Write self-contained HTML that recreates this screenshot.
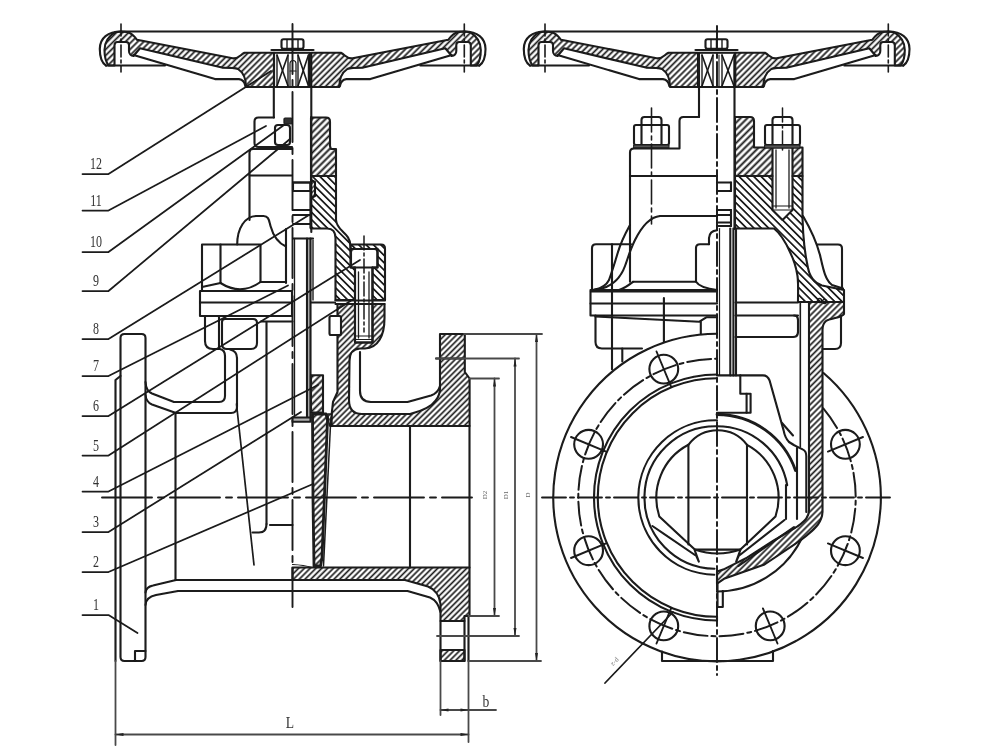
<!DOCTYPE html>
<html><head><meta charset="utf-8"><title>Gate valve drawing</title>
<style>
html,body{margin:0;padding:0;background:#fff;}
body{width:1000px;height:750px;overflow:hidden;font-family:"Liberation Sans",sans-serif;}
svg{display:block;}
</style></head><body>
<svg width="1000" height="750" viewBox="0 0 1000 750"
 font-family="Liberation Sans, sans-serif" stroke="#1a1a1a" stroke-linecap="round" stroke-linejoin="round" fill="none">
<defs>
<pattern id="hA" width="4.3" height="4.3" patternUnits="userSpaceOnUse" patternTransform="rotate(-45)"><line x1="-1" y1="2.15" x2="6.3" y2="2.15" stroke="#1a1a1a" stroke-width="1.65"/></pattern>
<pattern id="hB" width="4.3" height="4.3" patternUnits="userSpaceOnUse" patternTransform="rotate(45)"><line x1="-1" y1="2.15" x2="6.3" y2="2.15" stroke="#1a1a1a" stroke-width="1.65"/></pattern>
<pattern id="hG" width="4.8" height="4.8" patternUnits="userSpaceOnUse" patternTransform="rotate(-45)"><line x1="-1" y1="2.4" x2="6.8" y2="2.4" stroke="#1a1a1a" stroke-width="1.7"/></pattern>
<pattern id="hN" width="5.2" height="5.2" patternUnits="userSpaceOnUse" patternTransform="rotate(45)"><line x1="-1" y1="2.6" x2="7.2" y2="2.6" stroke="#1a1a1a" stroke-width="1.75"/></pattern>
<pattern id="hY" width="4.1" height="4.1" patternUnits="userSpaceOnUse" patternTransform="rotate(-45)"><line x1="-1" y1="2.05" x2="6.1" y2="2.05" stroke="#1a1a1a" stroke-width="1.6"/></pattern>
<pattern id="hW" width="4.2" height="4.2" patternUnits="userSpaceOnUse" patternTransform="rotate(-45)"><line x1="-1" y1="2.1" x2="6.2" y2="2.1" stroke="#1a1a1a" stroke-width="1.55"/></pattern>
<pattern id="hE" width="4.4" height="4.4" patternUnits="userSpaceOnUse" patternTransform="rotate(-45)"><line x1="-1" y1="2.2" x2="6.4" y2="2.2" stroke="#1a1a1a" stroke-width="1.6"/></pattern>
<pattern id="hC" width="3.2" height="3.2" patternUnits="userSpaceOnUse" patternTransform="rotate(-45)"><line x1="-1" y1="1.6" x2="5.2" y2="1.6" stroke="#1a1a1a" stroke-width="1.3"/></pattern>
<pattern id="hD" width="3.2" height="3.2" patternUnits="userSpaceOnUse" patternTransform="rotate(45)"><line x1="-1" y1="1.6" x2="5.2" y2="1.6" stroke="#1a1a1a" stroke-width="1.3"/></pattern>
<filter id="soft" x="0" y="0" width="1000" height="750" filterUnits="userSpaceOnUse"><feGaussianBlur stdDeviation="0.5"/></filter>
</defs>
<rect x="0" y="0" width="1000" height="750" fill="#fff" stroke="none"/>
<g filter="url(#soft)">
<g transform="translate(0 0)">
<g>
<path d="M108.5,65.5 C106,62 104.5,57 104.5,50 C104.5,43 107,37 115,32.3 L121,31.5 L127,32 C131,33 134,35.5 137,39.8 L232.6,58.3 C238,59.3 240,55 244.5,52.8 L274,52.8 L274,87 L246,87 C246,80 244,73 238,69 C235,67.6 230,67.6 222,67.6 L140,48.3 L133.5,56 C131,56 129,54 129,51 L129,45 C129,43 128,42 126,42 L117.5,42 C115.5,42 114.5,43 114.5,45.5 L114.5,65.5 Z" fill="url(#hA)" stroke-width="2.1" fill-rule="evenodd"/>
<path d="M121,31.5 C108,31.5 99.8,38 99.8,49 C99.8,58 102,63 106,65.6" fill="none" stroke-width="2.1" />
<line x1="106" y1="65.5" x2="165" y2="65.5" stroke-width="2.1" />
<path d="M133.5,55 L215,79.1 L239,79.1 C243,79.4 244.6,82 245.4,86" fill="none" stroke-width="2.1" />
<line x1="121" y1="24" x2="121" y2="72" stroke-width="1.6" stroke-dasharray="12 3 3 3"/>
</g>
<g transform="translate(585.3 0) scale(-1 1)">
<path d="M108.5,65.5 C106,62 104.5,57 104.5,50 C104.5,43 107,37 115,32.3 L121,31.5 L127,32 C131,33 134,35.5 137,39.8 L232.6,58.3 C238,59.3 240,55 244.5,52.8 L274,52.8 L274,87 L246,87 C246,80 244,73 238,69 C235,67.6 230,67.6 222,67.6 L140,48.3 L133.5,56 C131,56 129,54 129,51 L129,45 C129,43 128,42 126,42 L117.5,42 C115.5,42 114.5,43 114.5,45.5 L114.5,65.5 Z" fill="url(#hB)" stroke-width="2.1" fill-rule="evenodd"/>
<path d="M121,31.5 C108,31.5 99.8,38 99.8,49 C99.8,58 102,63 106,65.6" fill="none" stroke-width="2.1" />
<line x1="106" y1="65.5" x2="165" y2="65.5" stroke-width="2.1" />
<path d="M133.5,55 L215,79.1 L239,79.1 C243,79.4 244.6,82 245.4,86" fill="none" stroke-width="2.1" />
<line x1="121" y1="24" x2="121" y2="72" stroke-width="1.6" stroke-dasharray="12 3 3 3"/>
</g>
<line x1="121" y1="31.5" x2="464.3" y2="31.5" stroke-width="2.1" />
<rect x="274" y="52.8" width="36" height="34.2" rx="0" fill="none" stroke-width="2.1"/>
<line x1="277" y1="55" x2="288" y2="86" stroke-width="1.6" />
<line x1="288" y1="55" x2="277" y2="86" stroke-width="1.6" />
<line x1="277" y1="55" x2="277" y2="86" stroke-width="1.4" />
<line x1="288" y1="55" x2="288" y2="86" stroke-width="1.4" />
<line x1="298" y1="55" x2="308.5" y2="86" stroke-width="1.6" />
<line x1="308.5" y1="55" x2="298" y2="86" stroke-width="1.6" />
<line x1="298" y1="55" x2="298" y2="86" stroke-width="1.4" />
<line x1="308.5" y1="55" x2="308.5" y2="86" stroke-width="1.4" />
<path d="M290,86 L290,64 Q290,60.5 293,60.5 Q296,60.5 296,64 L296,86" fill="none" stroke-width="1.2" />
<line x1="290" y1="71" x2="296" y2="71" stroke-width="1.2" />
<line x1="273.8" y1="87" x2="273.8" y2="117.5" stroke-width="2.1" />
<line x1="311.3" y1="87" x2="311.3" y2="120" stroke-width="2.1" />
<line x1="271.5" y1="50" x2="313.5" y2="50" stroke-width="2.2" />
<line x1="273" y1="52.6" x2="312" y2="52.6" stroke-width="1.2" />
<rect x="281.5" y="39.3" width="22" height="9.5" rx="2" fill="none" stroke-width="2.1"/>
<line x1="287" y1="40" x2="287" y2="48.5" stroke-width="1.4" />
<line x1="292.5" y1="40" x2="292.5" y2="48.5" stroke-width="1.4" />
<line x1="298" y1="40" x2="298" y2="48.5" stroke-width="1.4" />
</g>
<g transform="translate(424 0)">
<g>
<path d="M108.5,65.5 C106,62 104.5,57 104.5,50 C104.5,43 107,37 115,32.3 L121,31.5 L127,32 C131,33 134,35.5 137,39.8 L232.6,58.3 C238,59.3 240,55 244.5,52.8 L274,52.8 L274,87 L246,87 C246,80 244,73 238,69 C235,67.6 230,67.6 222,67.6 L140,48.3 L133.5,56 C131,56 129,54 129,51 L129,45 C129,43 128,42 126,42 L117.5,42 C115.5,42 114.5,43 114.5,45.5 L114.5,65.5 Z" fill="url(#hA)" stroke-width="2.1" fill-rule="evenodd"/>
<path d="M121,31.5 C108,31.5 99.8,38 99.8,49 C99.8,58 102,63 106,65.6" fill="none" stroke-width="2.1" />
<line x1="106" y1="65.5" x2="165" y2="65.5" stroke-width="2.1" />
<path d="M133.5,55 L215,79.1 L239,79.1 C243,79.4 244.6,82 245.4,86" fill="none" stroke-width="2.1" />
<line x1="121" y1="24" x2="121" y2="72" stroke-width="1.6" stroke-dasharray="12 3 3 3"/>
</g>
<g transform="translate(585.3 0) scale(-1 1)">
<path d="M108.5,65.5 C106,62 104.5,57 104.5,50 C104.5,43 107,37 115,32.3 L121,31.5 L127,32 C131,33 134,35.5 137,39.8 L232.6,58.3 C238,59.3 240,55 244.5,52.8 L274,52.8 L274,87 L246,87 C246,80 244,73 238,69 C235,67.6 230,67.6 222,67.6 L140,48.3 L133.5,56 C131,56 129,54 129,51 L129,45 C129,43 128,42 126,42 L117.5,42 C115.5,42 114.5,43 114.5,45.5 L114.5,65.5 Z" fill="url(#hB)" stroke-width="2.1" fill-rule="evenodd"/>
<path d="M121,31.5 C108,31.5 99.8,38 99.8,49 C99.8,58 102,63 106,65.6" fill="none" stroke-width="2.1" />
<line x1="106" y1="65.5" x2="165" y2="65.5" stroke-width="2.1" />
<path d="M133.5,55 L215,79.1 L239,79.1 C243,79.4 244.6,82 245.4,86" fill="none" stroke-width="2.1" />
<line x1="121" y1="24" x2="121" y2="72" stroke-width="1.6" stroke-dasharray="12 3 3 3"/>
</g>
<line x1="121" y1="31.5" x2="464.3" y2="31.5" stroke-width="2.1" />
<rect x="275" y="52.8" width="36" height="34.2" rx="0" fill="none" stroke-width="2.1"/>
<line x1="278" y1="55" x2="289" y2="86" stroke-width="1.6" />
<line x1="289" y1="55" x2="278" y2="86" stroke-width="1.6" />
<line x1="278" y1="55" x2="278" y2="86" stroke-width="1.4" />
<line x1="289" y1="55" x2="289" y2="86" stroke-width="1.4" />
<line x1="298" y1="55" x2="310" y2="86" stroke-width="1.6" />
<line x1="310" y1="55" x2="298" y2="86" stroke-width="1.6" />
<line x1="298" y1="55" x2="298" y2="86" stroke-width="1.4" />
<line x1="310" y1="55" x2="310" y2="86" stroke-width="1.4" />
<line x1="295" y1="55" x2="295" y2="86" stroke-width="1.1" />
<line x1="271.5" y1="50" x2="313.5" y2="50" stroke-width="2.2" />
<line x1="273" y1="52.6" x2="312" y2="52.6" stroke-width="1.2" />
<rect x="281.5" y="39.3" width="22" height="9.5" rx="2" fill="none" stroke-width="2.1"/>
<line x1="287" y1="40" x2="287" y2="48.5" stroke-width="1.4" />
<line x1="292.5" y1="40" x2="292.5" y2="48.5" stroke-width="1.4" />
<line x1="298" y1="40" x2="298" y2="48.5" stroke-width="1.4" />
</g>
<line x1="292.5" y1="24" x2="292.5" y2="607" stroke-width="1.9" stroke-dasharray="50 6 6 6"/>
<line x1="102" y1="497.5" x2="472" y2="497.5" stroke-width="1.9" stroke-dasharray="50 6 6 6"/>
<line x1="311.3" y1="117" x2="311.3" y2="232" stroke-width="2.1" />
<path d="M274,117.5 L258.5,117.5 Q254.5,117.5 254.5,121.5 L254.5,143 Q254.5,147 258.5,147 L292,147" fill="none" stroke-width="2.1" />
<rect x="275" y="125" width="15" height="20" rx="3" fill="none" stroke-width="2.1"/>
<rect x="284" y="118" width="8" height="6" rx="1" fill="#333" stroke-width="1.2"/>
<path d="M311,117.5 L326,117.5 Q330,117.5 330,121.5 L330,146 L331,149 L336,149 L336,176 L311,176 Z" fill="url(#hG)" stroke-width="2.1" fill-rule="evenodd"/>
<path d="M292,149 L253,149 Q249.5,149 249.5,152.5 L249.5,220" fill="none" stroke-width="2.1" />
<line x1="249.5" y1="175.5" x2="292" y2="175.5" stroke-width="2.1" />
<path d="M311,176 L336,176 L336,220 C337,232 350,232 350.5,246 L350.5,267.5 L355,267.5 L355,300 L335.5,300 L335.5,238 Q335.5,228.5 327,228.5 L311,228.5 L311,198 L315,196 L315,182 L311,180 Z" fill="url(#hN)" stroke-width="2.1" fill-rule="evenodd"/>
<path d="M311,180 L315,182 L315,196 L311,198 Z" fill="url(#hC)" stroke-width="1.2" fill-rule="evenodd"/>
<line x1="293" y1="182.5" x2="310.5" y2="182.5" stroke-width="2.1" />
<line x1="293" y1="191" x2="310.5" y2="191" stroke-width="2.1" />
<line x1="293" y1="210" x2="310.5" y2="210" stroke-width="2.1" />
<line x1="293" y1="215" x2="310.5" y2="215" stroke-width="2.1" />
<line x1="293" y1="224" x2="310.5" y2="224" stroke-width="2.1" />
<line x1="310.5" y1="182.5" x2="310.5" y2="228" stroke-width="2.1" />
<rect x="293" y="182.5" width="17.5" height="8.5" rx="0" fill="none" stroke-width="2.1"/>
<path d="M350.5,244.5 L381,244.5 Q385,244.5 385,248.5 L385,300 L372.5,300 L372.5,267.5 L377.5,267.5 L377.5,249 L350.5,249 Z" fill="url(#hN)" stroke-width="2.1" fill-rule="evenodd"/>
<path d="M351,267.5 L351,252 Q351,249 354,249 L374.5,249 Q377.5,249 377.5,252 L377.5,267.5 Z" fill="none" stroke-width="2.1" />
<path d="M355,267.5 L355,342.5 L372.5,342.5 L372.5,267.5" fill="none" stroke-width="2.1" />
<line x1="358.5" y1="272" x2="358.5" y2="338" stroke-width="1.3" />
<line x1="369" y1="272" x2="369" y2="338" stroke-width="1.3" />
<line x1="355" y1="336" x2="372.5" y2="336" stroke-width="1.2" />
<line x1="355" y1="339.5" x2="372.5" y2="339.5" stroke-width="1.2" />
<line x1="364" y1="236" x2="364" y2="332" stroke-width="1.5" stroke-dasharray="14 3 3 3"/>
<line x1="335.5" y1="300.5" x2="385" y2="300.5" stroke-width="2.2" />
<line x1="335.5" y1="304" x2="384.5" y2="304" stroke-width="2.1" />
<path d="M337.5,304 L355,304 L355,342.5 L372.5,342.5 L372.5,304 L384.5,304 L384.5,318 C384.5,336 378,348 365,348.5 L360,348.5 Q349.5,349 349.5,361 L349,400 Q349,414 362,414 L410,414 Q430,409 436,400 Q440,395 440,388 L440,334 L464.8,334 L464.8,372 L469.6,378.5 L469.6,426 L331,426 L331,420 L333,402 L337.5,392 Z" fill="url(#hY)" stroke-width="2.1" fill-rule="evenodd"/>
<line x1="436" y1="358.5" x2="464.8" y2="358.5" stroke-width="2.1" />
<path d="M360,352 L360,391 Q360,402 371,402 L407.5,402 L431,395.5 Q438,393 440,386" fill="none" stroke-width="2.1" />
<rect x="329.5" y="316" width="11.5" height="19" rx="1.5" fill="#fff" stroke-width="2.1"/>
<rect x="307" y="238.5" width="3.5" height="179" fill="#b0b0b0" stroke="none"/>
<line x1="307" y1="238.5" x2="307" y2="417.5" stroke-width="2.1" />
<line x1="310.5" y1="238.5" x2="310.5" y2="417.5" stroke-width="2.1" />
<line x1="313" y1="240" x2="313" y2="300" stroke-width="1.4" />
<line x1="293" y1="238.5" x2="313" y2="238.5" stroke-width="2.1" />
<line x1="294.5" y1="238.5" x2="294.5" y2="417.5" stroke-width="1.3" />
<line x1="311" y1="302.5" x2="335" y2="302.5" stroke-width="2.1" />
<path d="M286,283 L286,229" fill="none" stroke-width="2.1" />
<path d="M311,375.2 L323,375.2 L323,412.5 L311,412.5 Z" fill="url(#hG)" stroke-width="2.1" fill-rule="evenodd"/>
<rect x="292.5" y="417.5" width="18" height="4.2" rx="0" fill="#b0b0b0" stroke-width="2.1"/>
<path d="M312.5,414 L326,414 L327.5,420 L322,558 L320.5,566 L314,566 L313,500 Z" fill="url(#hE)" stroke-width="2.8" fill-rule="evenodd"/>
<line x1="330.5" y1="425" x2="323.5" y2="566" stroke-width="1.5" />
<path d="M327.7,414 L332,414 L332,426 L329.5,426 Z" fill="url(#hC)" stroke-width="1.4" fill-rule="evenodd"/>
<path d="M292.5,564.5 Q304,565 312,567.5" fill="none" stroke-width="1.1" />
<line x1="410" y1="426" x2="410" y2="567.5" stroke-width="2.1" />
<line x1="469.5" y1="426" x2="469.5" y2="567.5" stroke-width="2.1" />
<path d="M292.5,567.5 L469.5,567.5 L469.5,616 L464.5,616 L464.5,621 L440.5,621 L440.5,604 Q439,591 428,586.5 L405,580 L292.5,580 Z" fill="url(#hY)" stroke-width="2.1" fill-rule="evenodd"/>
<line x1="440.5" y1="621" x2="440.5" y2="661" stroke-width="2.1" />
<line x1="464.5" y1="621" x2="464.5" y2="661" stroke-width="2.1" />
<path d="M440.5,650 L464.5,650 L464.5,661 L440.5,661 Z" fill="url(#hY)" stroke-width="2.1" fill-rule="evenodd"/>
<line x1="468.5" y1="616" x2="468.5" y2="661" stroke-width="2.1" />
<path d="M145.5,605 Q146,597 156,595 L178,591 L407.5,591 L430,597.5 Q438,601 440.5,612" fill="none" stroke-width="2.1" />
<path d="M145.5,592.5 Q146,587 153,585.5 L176,580 L292.5,580" fill="none" stroke-width="2.1" />
<line x1="175.5" y1="413" x2="175.5" y2="580" stroke-width="2.1" />
<path d="M124.5,334 L141.5,334 Q145.5,334 145.5,338 L145.5,657 Q145.5,661 141.5,661 L124.5,661 Q120.5,661 120.5,657 L120.5,338 Q120.5,334 124.5,334 Z" fill="none" stroke-width="2.1" />
<path d="M120.5,376 L115.5,380 L115.5,661" fill="none" stroke-width="2.1" />
<path d="M135,661 L135,651 L145.5,651" fill="none" stroke-width="2.1" />
<path d="M145.5,382 Q146,391 152,393.5 L174,402 L219,402 Q225,402 225,396 L225,356 Q225,350 220,349" fill="none" stroke-width="2.1" />
<path d="M145.5,395 Q146,402 152,404.5 L176,413 L231,413 Q237,413 237,407 L237,358 Q237,351 230,349.5" fill="none" stroke-width="2.1" />
<line x1="236.5" y1="404" x2="254" y2="565" stroke-width="1.7" />
<line x1="266.5" y1="322" x2="266.5" y2="524" stroke-width="2.1" />
<line x1="261" y1="321.5" x2="292.5" y2="321.5" stroke-width="2.1" />
<path d="M266.5,524 Q266.5,532.5 259,532.5 L252.5,532.5" fill="none" stroke-width="2.1" />
<line x1="270" y1="525" x2="292.5" y2="525" stroke-width="2.1" />
<path d="M205,316 L205,341 Q205,349 213,349 L219,349" fill="none" stroke-width="2.1" />
<path d="M219,316 L219,349" fill="none" stroke-width="2.1" />
<path d="M222,322 Q222,319 225,319 L253,319 Q257,319 257,323 L257,343 Q257,349 251,349 L227,349 Q222,349 222,344 Z" fill="none" stroke-width="2.1" />
<rect x="200" y="291" width="92" height="25" rx="0" fill="none" stroke-width="2.1"/>
<line x1="200" y1="302.5" x2="292" y2="302.5" stroke-width="2.1" />
<path d="M202,291 L202,244.5 L260.5,244.5 L260.5,282" fill="none" stroke-width="2.1" />
<line x1="220.5" y1="244.5" x2="220.5" y2="283" stroke-width="2.1" />
<path d="M220.5,283 Q241,296 260.5,282" fill="none" stroke-width="2.1" />
<path d="M202,287 L220.5,283" fill="none" stroke-width="2.1" />
<path d="M260.5,282 L286,282" fill="none" stroke-width="2.1" />
<path d="M237.2,244.5 C237.2,228 245,216.5 256,216 L263.5,216 C269,216 269,221 270.5,226 C273,235 278,243 286,246.5" fill="none" stroke-width="2.1" />
<path d="M82.5,174 L108.5,174 L271,71" fill="none" stroke-width="1.75" />
<text x="0" y="0" font-size="16" text-anchor="middle" stroke="none" fill="#333" transform="translate(96 169.3) scale(0.75 1)" font-family="Liberation Serif, serif" >12</text>
<path d="M82.5,210.5 L108.5,210.5 L266,126" fill="none" stroke-width="1.75" />
<text x="0" y="0" font-size="16" text-anchor="middle" stroke="none" fill="#333" transform="translate(96 205.8) scale(0.75 1)" font-family="Liberation Serif, serif" >11</text>
<path d="M82.5,252 L108.5,252 L284,125" fill="none" stroke-width="1.75" />
<text x="0" y="0" font-size="16" text-anchor="middle" stroke="none" fill="#333" transform="translate(96 247.3) scale(0.75 1)" font-family="Liberation Serif, serif" >10</text>
<path d="M82.5,291 L108.5,291 L290,139" fill="none" stroke-width="1.75" />
<text x="0" y="0" font-size="16" text-anchor="middle" stroke="none" fill="#333" transform="translate(96 286.3) scale(0.75 1)" font-family="Liberation Serif, serif" >9</text>
<path d="M82.5,339 L108.5,339 L309,215" fill="none" stroke-width="1.75" />
<text x="0" y="0" font-size="16" text-anchor="middle" stroke="none" fill="#333" transform="translate(96 334.3) scale(0.75 1)" font-family="Liberation Serif, serif" >8</text>
<path d="M82.5,376 L108.5,376 L288,285.5" fill="none" stroke-width="1.75" />
<text x="0" y="0" font-size="16" text-anchor="middle" stroke="none" fill="#333" transform="translate(96 371.3) scale(0.75 1)" font-family="Liberation Serif, serif" >7</text>
<path d="M82.5,416 L108.5,416 L360,260" fill="none" stroke-width="1.75" />
<text x="0" y="0" font-size="16" text-anchor="middle" stroke="none" fill="#333" transform="translate(96 411.3) scale(0.75 1)" font-family="Liberation Serif, serif" >6</text>
<path d="M82.5,455.5 L108.5,455.5 L352,300" fill="none" stroke-width="1.75" />
<text x="0" y="0" font-size="16" text-anchor="middle" stroke="none" fill="#333" transform="translate(96 450.8) scale(0.75 1)" font-family="Liberation Serif, serif" >5</text>
<path d="M82.5,491.5 L108.5,491.5 L318,385" fill="none" stroke-width="1.75" />
<text x="0" y="0" font-size="16" text-anchor="middle" stroke="none" fill="#333" transform="translate(96 486.8) scale(0.75 1)" font-family="Liberation Serif, serif" >4</text>
<path d="M82.5,532 L108.5,532 L301,412" fill="none" stroke-width="1.75" />
<text x="0" y="0" font-size="16" text-anchor="middle" stroke="none" fill="#333" transform="translate(96 527.3) scale(0.75 1)" font-family="Liberation Serif, serif" >3</text>
<path d="M82.5,572 L108.5,572 L313,484" fill="none" stroke-width="1.75" />
<text x="0" y="0" font-size="16" text-anchor="middle" stroke="none" fill="#333" transform="translate(96 567.3) scale(0.75 1)" font-family="Liberation Serif, serif" >2</text>
<path d="M82.5,615 L108.5,615 L137.5,633" fill="none" stroke-width="1.75" />
<text x="0" y="0" font-size="16" text-anchor="middle" stroke="none" fill="#333" transform="translate(96 610.3) scale(0.75 1)" font-family="Liberation Serif, serif" >1</text>
<g stroke="#4a4a4a">
<line x1="115.5" y1="661" x2="115.5" y2="745" stroke-width="1.8" />
<line x1="468.5" y1="661" x2="468.5" y2="742" stroke-width="1.8" />
<line x1="115.5" y1="734.5" x2="468.5" y2="734.5" stroke-width="1.8" />
<path d="M115.5,734.5 L123.5,733.0 L123.5,736.0 Z" fill="#222" stroke="none"/>
<path d="M468.5,734.5 L460.5,736.0 L460.5,733.0 Z" fill="#222" stroke="none"/>
<text x="0" y="0" font-size="17" text-anchor="middle" stroke="none" fill="#333" transform="translate(290 728) scale(0.8 1)" font-family="Liberation Serif, serif" >L</text>
<line x1="440.5" y1="661" x2="440.5" y2="715" stroke-width="1.8" />
<line x1="440.5" y1="710" x2="496" y2="710" stroke-width="1.8" />
<path d="M440.5,710 L448.5,708.5 L448.5,711.5 Z" fill="#222" stroke="none"/>
<path d="M468.5,710 L460.5,711.5 L460.5,708.5 Z" fill="#222" stroke="none"/>
<text x="0" y="0" font-size="17" text-anchor="middle" stroke="none" fill="#333" transform="translate(486 707) scale(0.8 1)" font-family="Liberation Serif, serif" >b</text>
<line x1="464" y1="334" x2="542" y2="334" stroke-width="1.8" />
<line x1="468.5" y1="661" x2="541" y2="661" stroke-width="1.8" />
<line x1="536.5" y1="334" x2="536.5" y2="661" stroke-width="1.8" />
<path d="M536.5,334 L538.0,342.0 L535.0,342.0 Z" fill="#222" stroke="none"/>
<path d="M536.5,661 L535.0,653.0 L538.0,653.0 Z" fill="#222" stroke="none"/>
<line x1="436" y1="358.5" x2="519" y2="358.5" stroke-width="1.8" />
<line x1="437" y1="636" x2="519" y2="636" stroke-width="1.8" />
<line x1="515" y1="358.5" x2="515" y2="636" stroke-width="1.8" />
<path d="M515,358.5 L516.5,366.5 L513.5,366.5 Z" fill="#222" stroke="none"/>
<path d="M515,636 L513.5,628.0 L516.5,628.0 Z" fill="#222" stroke="none"/>
<line x1="469.5" y1="378.5" x2="499" y2="378.5" stroke-width="1.8" />
<line x1="468.5" y1="616" x2="499" y2="616" stroke-width="1.8" />
<line x1="494.5" y1="378.5" x2="494.5" y2="616" stroke-width="1.8" />
<path d="M494.5,378.5 L496.0,386.5 L493.0,386.5 Z" fill="#222" stroke="none"/>
<path d="M494.5,616 L493.0,608.0 L496.0,608.0 Z" fill="#222" stroke="none"/>
</g>
<text x="0" y="0" font-size="7" text-anchor="middle" stroke="none" fill="#666" transform="translate(487 495) rotate(-90)" font-family="Liberation Serif, serif" >D2</text>
<text x="0" y="0" font-size="7" text-anchor="middle" stroke="none" fill="#666" transform="translate(507.5 495) rotate(-90)" font-family="Liberation Serif, serif" >D1</text>
<text x="0" y="0" font-size="7" text-anchor="middle" stroke="none" fill="#666" transform="translate(530 495) rotate(-90)" font-family="Liberation Serif, serif" >D</text>
<line x1="717.0" y1="26" x2="717.0" y2="675" stroke-width="1.9" stroke-dasharray="24 4 4 4"/>
<line x1="542" y1="497.5" x2="893" y2="497.5" stroke-width="1.9" stroke-dasharray="24 4 4 4"/>
<line x1="699" y1="87" x2="699" y2="117" stroke-width="2.1" />
<line x1="734.5" y1="87" x2="734.5" y2="229" stroke-width="2.1" />
<path d="M699,117 L683.5,117 Q679.5,117 679.5,121 L679.5,147.5" fill="none" stroke-width="2.1" />
<path d="M735,117 L750,117 Q754,117 754,121 L754,147.5 L772.5,147.5 L772.5,176 L735,176 Z" fill="url(#hG)" stroke-width="2.1" fill-rule="evenodd"/>
<path d="M792.5,147.5 L802.5,147.5 L802.5,176 L792.5,176 Z" fill="url(#hG)" stroke-width="2.1" fill-rule="evenodd"/>
<line x1="772.5" y1="147.5" x2="792.5" y2="147.5" stroke-width="2.1" />
<path d="M735,176 L772.5,176 L772.5,210 L782.5,220 L792.5,210 L792.5,176 L802.5,176 L802.5,218 C803,235 805,255 808,268 C810,278 814,283 822,285.5 L844,290 L844,302 L798,302 C798,290 798.5,284 797.5,276 C796,266 794,260 790,252 C786,243 781,234 774,228.5 L735,228.5 Z" fill="url(#hN)" stroke-width="2.1" fill-rule="evenodd"/>
<path d="M803,216 C810,228 816,240 820,255 C823,268 825,280 832,285 L843,288.5" fill="none" stroke-width="2.1" />
<line x1="776" y1="150" x2="776" y2="208" stroke-width="1.3" />
<line x1="789" y1="150" x2="789" y2="208" stroke-width="1.3" />
<line x1="772.5" y1="206" x2="792.5" y2="206" stroke-width="1.0" />
<line x1="772.5" y1="210" x2="792.5" y2="210" stroke-width="1.0" />
<line x1="782.5" y1="108" x2="782.5" y2="150" stroke-width="1.5" stroke-dasharray="14 3 3 3"/>
<path d="M641.5,125 L641.5,120 Q641.5,117 644.5,117 L658.5,117 Q661.5,117 661.5,120 L661.5,125" fill="none" stroke-width="2.1" />
<rect x="634.0" y="125" width="35" height="20" rx="2" fill="none" stroke-width="2.1"/>
<line x1="641.5" y1="125" x2="641.5" y2="145" stroke-width="2.1" />
<line x1="661.5" y1="125" x2="661.5" y2="145" stroke-width="2.1" />
<rect x="634.0" y="145" width="35" height="3" rx="0" fill="#555" stroke-width="1.0"/>
<path d="M772.5,125 L772.5,120 Q772.5,117 775.5,117 L789.5,117 Q792.5,117 792.5,120 L792.5,125" fill="none" stroke-width="2.1" />
<rect x="765.0" y="125" width="35" height="20" rx="2" fill="none" stroke-width="2.1"/>
<line x1="772.5" y1="125" x2="772.5" y2="145" stroke-width="2.1" />
<line x1="792.5" y1="125" x2="792.5" y2="145" stroke-width="2.1" />
<rect x="765.0" y="145" width="35" height="3" rx="0" fill="#555" stroke-width="1.0"/>
<line x1="651.5" y1="108" x2="651.5" y2="224" stroke-width="1.6" stroke-dasharray="24 4 4 4"/>
<path d="M679.5,148.5 L634,148.5 Q630,148.5 630,152.5 L630,281.8" fill="none" stroke-width="2.1" />
<line x1="630" y1="176" x2="717.0" y2="176" stroke-width="2.1" />
<line x1="717.0" y1="182.5" x2="731" y2="182.5" stroke-width="2.1" />
<line x1="717.0" y1="191" x2="731" y2="191" stroke-width="2.1" />
<line x1="717.0" y1="210" x2="731" y2="210" stroke-width="2.1" />
<line x1="717.0" y1="215" x2="731" y2="215" stroke-width="2.1" />
<line x1="717.0" y1="222.5" x2="731" y2="222.5" stroke-width="2.1" />
<line x1="717.0" y1="226" x2="731" y2="226" stroke-width="2.1" />
<line x1="731" y1="182.5" x2="731" y2="191" stroke-width="2.1" />
<line x1="731" y1="210" x2="731" y2="226" stroke-width="2.1" />
<path d="M717.0,216 L660,216 C650,217 641,228 635,240 C630,250 628,258 625,266 C621,277 614,285 602,288.5 L592,290" fill="none" stroke-width="2.1" />
<path d="M630,225 C625,234 621,242 618,252 C615,262 612,272 609,280 C606,286 600,288.5 595,289.5" fill="none" stroke-width="2.1" />
<path d="M633,281.8 L696,281.8 L696,248 Q696,244.2 700,244.2 L709,244.2" fill="none" stroke-width="2.1" />
<path d="M709,244.2 L709,238 Q709.5,231 717.0,230.3" fill="none" stroke-width="2.1" />
<path d="M696,281.8 Q700,288 717.0,290" fill="none" stroke-width="2.1" />
<path d="M633,281.8 Q625,288 619,290" fill="none" stroke-width="2.1" />
<path d="M631,244.2 L596,244.2 Q592,244.2 592,248.2 L592,290" fill="none" stroke-width="2.1" />
<line x1="612" y1="244.2" x2="612" y2="315.5" stroke-width="2.1" />
<path d="M717.0,290 L590.5,290 L590.5,315.5 L717.0,315.5" fill="none" stroke-width="2.1" />
<line x1="590.5" y1="303.5" x2="717.0" y2="303.5" stroke-width="2.1" />
<line x1="590.5" y1="291.8" x2="717.0" y2="291.8" stroke-width="1.4" />
<path d="M595.5,315.5 L595.5,342 Q595.5,348.5 602,348.5 L642,348.5" fill="none" stroke-width="2.1" />
<path d="M595.4,316.5 L699.4,321.7 L706.3,317.3 L717.0,317.3" fill="none" stroke-width="2.1" />
<line x1="700.8" y1="321.7" x2="700.8" y2="334" stroke-width="2.1" />
<line x1="663.9" y1="298" x2="663.9" y2="341.6" stroke-width="2.1" />
<line x1="612" y1="315.5" x2="612" y2="369.3" stroke-width="2.1" />
<line x1="622.3" y1="348.5" x2="622.3" y2="361.5" stroke-width="2.1" />
<line x1="730.3" y1="228.5" x2="730.3" y2="375.4" stroke-width="2.1" />
<line x1="733.4" y1="228.5" x2="733.4" y2="375.4" stroke-width="2.1" />
<line x1="736" y1="228.5" x2="736" y2="375.4" stroke-width="2.1" />
<line x1="719.5" y1="228.5" x2="719.5" y2="375.4" stroke-width="1.2" />
<line x1="735.5" y1="302.5" x2="798" y2="302.5" stroke-width="2.1" />
<line x1="735.5" y1="315.5" x2="798" y2="315.5" stroke-width="2.1" />
<path d="M735.5,337 L793,337 Q798,337 798,332 L798,320 Q798,315.5 794,315.5" fill="none" stroke-width="2.1" />
<path d="M809,302 L844,302 L844,314 C842,318 830,318 826,321 C823.5,323 822.5,326 822.5,330 L822.5,512 C822,521 818,527 801,540 L764.5,564.5 L724.7,578.4 L717,583.6 L717,571.5 L724.7,568.9 L747,557.6 L773,541 L797.5,526.4 C805,521 809,517 809,510 Z" fill="url(#hW)" stroke-width="2.1" fill-rule="evenodd"/>
<line x1="800.3" y1="302" x2="800.3" y2="447" stroke-width="1.6" />
<circle cx="819.5" cy="300.5" r="2.0" fill="none" stroke-width="1.4" />
<circle cx="824.5" cy="301.5" r="2.0" fill="none" stroke-width="1.4" />
<path d="M817,244.5 L838,244.5 Q842,244.5 842,248.5 L842,289" fill="none" stroke-width="2.1" />
<path d="M841,316 L841,343 Q841,349 835,349 L822.5,349" fill="none" stroke-width="2.1" />
<path d="M717.0,375.4 L763,375.4 Q767.5,375.4 769.6,380.5 L783.6,430.4 Q785,438 789,442 L793.8,445 L802.6,449.4 Q806.3,451 806.3,456 L806.3,512" fill="none" stroke-width="2.1" />
<line x1="797" y1="448" x2="797" y2="519" stroke-width="2.1" />
<line x1="782" y1="423" x2="793" y2="435.5" stroke-width="2.1" />
<path d="M740.3,375.4 L740.3,393.7 L750.6,393.7 L750.6,412.8 L717.0,412.8" fill="none" stroke-width="2.1" />
<line x1="746.6" y1="393.7" x2="746.6" y2="412.8" stroke-width="2.1" />
<path d="M823.5,373.0 A163.8,163.8 0 1 1 717.0,333.7" fill="none" stroke-width="2.1" />
<path d="M823.3,408.4 A138.7,138.7 0 1 1 717.0,358.8" fill="none" stroke-width="2.0" stroke-dasharray="24 4 4 4"/>
<path d="M717.0,620.5 A123,123 0 0 1 717.0,374.5" fill="none" stroke-width="2.1" />
<path d="M717.0,616.8 A119.3,119.3 0 0 1 717.0,378.2" fill="none" stroke-width="2.1" />
<line x1="717.0" y1="616.8" x2="717.0" y2="620.5" stroke-width="2.1" />
<path d="M800.8,540.2 A94,94 0 0 1 717.0,591.5" fill="none" stroke-width="2.1" />
<path d="M717.5,583.6 L717.5,607 L722.8,607 L722.8,591" fill="none" stroke-width="2.1" />
<path d="M714.3,574.8 A77.3,77.3 0 0 1 717.0,420.2" fill="none" stroke-width="2.1" />
<path d="M714.5,568.8 A71.3,71.3 0 0 1 717.0,426.2" fill="none" stroke-width="2.1" />
<path d="M717.0,414.5 A83,83 0 0 1 795.5,470.5" fill="none" stroke-width="2.8" />
<path d="M717.0,426.2 A71.3,71.3 0 0 1 787.2,485.1" fill="none" stroke-width="2.1" />
<line x1="786" y1="485" x2="786" y2="519" stroke-width="2.1" />
<path d="M659.3,516.5 A60,60 0 0 1 688.4,444.8 A36.8,36.8 0 0 1 747,444.8 A60,60 0 0 1 775.5,516.5 L740.4,549.6 L694.8,549.6 Z" fill="none" stroke-width="2.1" />
<line x1="688.4" y1="444.8" x2="688.4" y2="544.5" stroke-width="2.1" />
<line x1="747" y1="444.8" x2="747" y2="544.5" stroke-width="2.1" />
<path d="M694.8,549.6 Q717.5,557.5 740.4,549.6" fill="none" stroke-width="2.1" />
<path d="M652.4,526 L696.4,556 L698.8,561.6 L694.8,550.4" fill="none" stroke-width="2.1" />
<path d="M784.5,520 L738.6,556 L736.2,561.6 L740.2,550.4" fill="none" stroke-width="2.1" />
<path d="M794,527 L738.5,566" fill="none" stroke-width="2.1" />
<circle cx="845.4" cy="550.7" r="14.4" fill="none" stroke-width="2.1" />
<line x1="827.9" y1="543.4" x2="863.0" y2="558.0" stroke-width="1.9" />
<circle cx="770.2" cy="625.9" r="14.4" fill="none" stroke-width="2.1" />
<line x1="762.9" y1="608.4" x2="777.5" y2="643.5" stroke-width="1.9" />
<circle cx="663.8" cy="625.9" r="14.4" fill="none" stroke-width="2.1" />
<line x1="671.1" y1="608.4" x2="656.5" y2="643.5" stroke-width="1.9" />
<circle cx="588.6" cy="550.7" r="14.4" fill="none" stroke-width="2.1" />
<line x1="606.1" y1="543.4" x2="571.0" y2="558.0" stroke-width="1.9" />
<circle cx="588.6" cy="444.3" r="14.4" fill="none" stroke-width="2.1" />
<line x1="606.1" y1="451.6" x2="571.0" y2="437.0" stroke-width="1.9" />
<circle cx="663.8" cy="369.1" r="14.4" fill="none" stroke-width="2.1" />
<line x1="671.1" y1="386.6" x2="656.5" y2="351.5" stroke-width="1.9" />
<circle cx="845.4" cy="444.3" r="14.4" fill="none" stroke-width="2.1" />
<line x1="827.9" y1="451.6" x2="863.0" y2="437.0" stroke-width="1.9" />
<path d="M662,651.5 L662,661 L773,661 L773,651" fill="none" stroke-width="2.1" />
<line x1="605" y1="683" x2="673" y2="612" stroke-width="1.8" />
<text x="0" y="0" font-size="7" text-anchor="middle" stroke="none" fill="#777" transform="translate(616 663) rotate(-46)" font-family="Liberation Serif, serif" >z-d</text>
</g>
</svg>
</body></html>
